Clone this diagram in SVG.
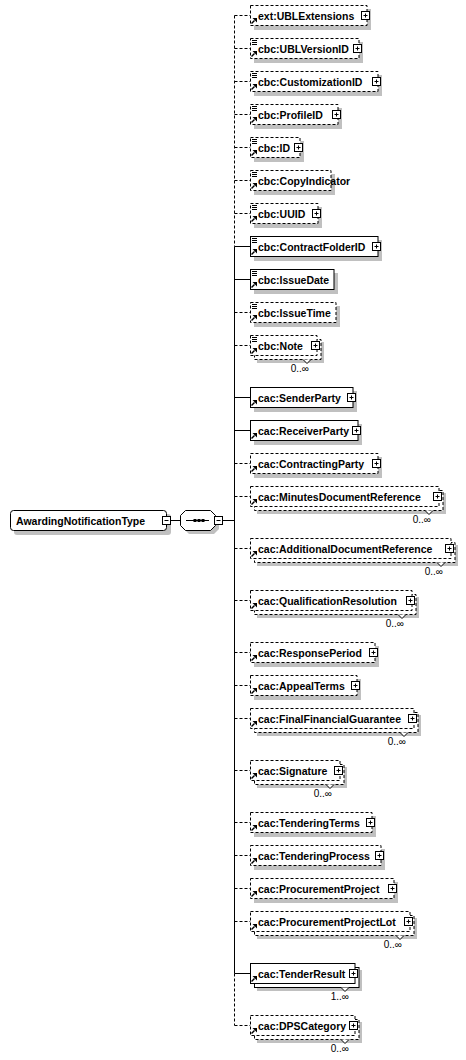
<svg xmlns="http://www.w3.org/2000/svg" xmlns:xlink="http://www.w3.org/1999/xlink" width="466" height="1060" viewBox="0 0 466 1060">
<style>
.box{fill:#fff;stroke:#000;stroke-width:1}
.opt{stroke-dasharray:3,2}
.sh{fill:#c0c0c0}
.ln{fill:none;stroke:#000;stroke-width:1}
.dash{stroke-dasharray:3,2}
.t{font-family:"Liberation Sans",Arial,sans-serif;font-size:10.5px;font-weight:bold;fill:#000}
.occ{font-family:"Liberation Sans",Arial,sans-serif;font-size:10px;fill:#000}
.btn{fill:#fff;stroke:#000;stroke-width:1}
</style>
<defs>
<g id="refIcon">
<path d="M251.5,8.5 L254.5,5.5" stroke="#000" stroke-width="1.4" fill="none"/>
<polygon points="257,3 257,7.5 252.5,3" fill="#000"/>
</g>
<g id="simpleIcon" stroke="#000" stroke-width="1">
<path d="M252,-7.5 H257 M252,-5.5 H257 M252,-3.5 H257"/>
</g>
</defs>

<g id="connectors">
<path class="ln" d="M170.5,520.5 H180.5 M222.5,520.5 H234.5"/>
<path class="ln dash" d="M234.5,15.5 V246.5"/>
<path class="ln" d="M234.5,246.5 V973.5"/>
<path class="ln dash" d="M234.5,973.5 V1025.5"/>
<path class="ln dash" d="M234.5,15.5 H250.5 M234.5,48.5 H250.5 M234.5,81.5 H250.5 M234.5,114.5 H250.5 M234.5,147.5 H250.5 M234.5,180.5 H250.5 M234.5,213.5 H250.5 M234.5,312.5 H250.5 M234.5,345.5 H250.5 M234.5,463.5 H250.5 M234.5,496.5 H250.5 M234.5,548.5 H250.5 M234.5,600.5 H250.5 M234.5,652.5 H250.5 M234.5,685.5 H250.5 M234.5,718.5 H250.5 M234.5,770.5 H250.5 M234.5,822.5 H250.5 M234.5,855.5 H250.5 M234.5,888.5 H250.5 M234.5,921.5 H250.5 M234.5,1025.5 H250.5"/>
<path class="ln" d="M234.5,246.5 H250.5 M234.5,279.5 H250.5 M234.5,397.5 H250.5 M234.5,430.5 H250.5 M234.5,973.5 H250.5"/>
</g>

<g id="AwardingNotificationType">
<rect class="sh" x="14" y="514" width="157" height="21" rx="3"/>
<rect class="box" x="10.5" y="510.5" width="156" height="20" rx="3"/>
<text class="t" x="16" y="525">AwardingNotificationType</text>
<rect class="btn" x="162.5" y="516.5" width="8" height="8"/>
<path class="ln" d="M164.5,520.5 H168.5"/>
</g>

<g id="sequence">
<polygon class="sh" points="189,514 214,514 219,519 219,529 214,534 189,534 184,529 184,519"/>
<polygon class="box" points="185.5,510.5 210.5,510.5 215.5,515.5 215.5,525.5 210.5,530.5 185.5,530.5 180.5,525.5 180.5,515.5"/>
<path class="ln" d="M186,520.5 H209"/>
<rect x="193.5" y="519" width="3" height="3" fill="#000"/>
<rect x="197.5" y="519" width="3" height="3" fill="#000"/>
<rect x="201.5" y="519" width="3" height="3" fill="#000"/>
<rect class="btn" x="214.5" y="516.5" width="8" height="8"/>
<path class="ln" d="M216.5,520.5 H220.5"/>
</g>

<g id="ext_UBLExtensions" transform="translate(0,15)">
<rect class="sh" x="254" y="-6" width="117" height="21"/>
<rect class="box opt" x="250.5" y="-9.5" width="116.5" height="20"/>
<use xlink:href="#refIcon"/>
<text class="t" x="258" y="4.5">ext:UBLExtensions</text>
<rect class="btn" x="361.5" y="-3.5" width="8" height="8"/>
<path class="ln" d="M363.5,0.5 H367.5 M365.5,-1.5 V2.5"/>
</g>

<g id="cbc_UBLVersionID" transform="translate(0,48)">
<rect class="sh" x="254" y="-6" width="109" height="21"/>
<rect class="box opt" x="250.5" y="-9.5" width="108.5" height="20"/>
<use xlink:href="#simpleIcon"/>
<use xlink:href="#refIcon"/>
<text class="t" x="258" y="4.5">cbc:UBLVersionID</text>
<rect class="btn" x="353.5" y="-3.5" width="8" height="8"/>
<path class="ln" d="M355.5,0.5 H359.5 M357.5,-1.5 V2.5"/>
</g>

<g id="cbc_CustomizationID" transform="translate(0,81)">
<rect class="sh" x="254" y="-6" width="128" height="21"/>
<rect class="box opt" x="250.5" y="-9.5" width="127.5" height="20"/>
<use xlink:href="#simpleIcon"/>
<use xlink:href="#refIcon"/>
<text class="t" x="258" y="4.5">cbc:CustomizationID</text>
<rect class="btn" x="372.5" y="-3.5" width="8" height="8"/>
<path class="ln" d="M374.5,0.5 H378.5 M376.5,-1.5 V2.5"/>
</g>

<g id="cbc_ProfileID" transform="translate(0,114)">
<rect class="sh" x="254" y="-6" width="88" height="21"/>
<rect class="box opt" x="250.5" y="-9.5" width="87.5" height="20"/>
<use xlink:href="#simpleIcon"/>
<use xlink:href="#refIcon"/>
<text class="t" x="258" y="4.5">cbc:ProfileID</text>
<rect class="btn" x="332.5" y="-3.5" width="8" height="8"/>
<path class="ln" d="M334.5,0.5 H338.5 M336.5,-1.5 V2.5"/>
</g>

<g id="cbc_ID" transform="translate(0,147)">
<rect class="sh" x="254" y="-6" width="50" height="21"/>
<rect class="box opt" x="250.5" y="-9.5" width="49.5" height="20"/>
<use xlink:href="#simpleIcon"/>
<use xlink:href="#refIcon"/>
<text class="t" x="258" y="4.5">cbc:ID</text>
<rect class="btn" x="294.5" y="-3.5" width="8" height="8"/>
<path class="ln" d="M296.5,0.5 H300.5 M298.5,-1.5 V2.5"/>
</g>

<g id="cbc_CopyIndicator" transform="translate(0,180)">
<rect class="sh" x="254" y="-6" width="81" height="21"/>
<rect class="box opt" x="250.5" y="-9.5" width="80.5" height="20"/>
<use xlink:href="#simpleIcon"/>
<use xlink:href="#refIcon"/>
<text class="t" x="258" y="4.5">cbc:CopyIndicator</text>
</g>

<g id="cbc_UUID" transform="translate(0,213)">
<rect class="sh" x="254" y="-6" width="68" height="21"/>
<rect class="box opt" x="250.5" y="-9.5" width="67.5" height="20"/>
<use xlink:href="#simpleIcon"/>
<use xlink:href="#refIcon"/>
<text class="t" x="258" y="4.5">cbc:UUID</text>
<rect class="btn" x="312.5" y="-3.5" width="8" height="8"/>
<path class="ln" d="M314.5,0.5 H318.5 M316.5,-1.5 V2.5"/>
</g>

<g id="cbc_ContractFolderID" transform="translate(0,246)">
<rect class="sh" x="254" y="-6" width="128" height="21"/>
<rect class="box" x="250.5" y="-9.5" width="127.5" height="20"/>
<use xlink:href="#simpleIcon"/>
<use xlink:href="#refIcon"/>
<text class="t" x="258" y="4.5">cbc:ContractFolderID</text>
<rect class="btn" x="372.5" y="-3.5" width="8" height="8"/>
<path class="ln" d="M374.5,0.5 H378.5 M376.5,-1.5 V2.5"/>
</g>

<g id="cbc_IssueDate" transform="translate(0,279)">
<rect class="sh" x="254" y="-6" width="84" height="21"/>
<rect class="box" x="250.5" y="-9.5" width="83.5" height="20"/>
<use xlink:href="#simpleIcon"/>
<use xlink:href="#refIcon"/>
<text class="t" x="258" y="4.5">cbc:IssueDate</text>
</g>

<g id="cbc_IssueTime" transform="translate(0,312)">
<rect class="sh" x="254" y="-6" width="86" height="21"/>
<rect class="box opt" x="250.5" y="-9.5" width="85.5" height="20"/>
<use xlink:href="#simpleIcon"/>
<use xlink:href="#refIcon"/>
<text class="t" x="258" y="4.5">cbc:IssueTime</text>
</g>

<g id="cbc_Note" transform="translate(0,345)">
<rect class="sh" x="257" y="-3" width="67" height="21"/>
<rect class="box opt" x="254.5" y="-5.5" width="66.5" height="20"/>
<rect class="box opt" x="250.5" y="-9.5" width="66.5" height="20"/>
<use xlink:href="#simpleIcon"/>
<use xlink:href="#refIcon"/>
<text class="t" x="258" y="4.5">cbc:Note</text>
<rect class="btn" x="311.5" y="-3.5" width="8" height="8"/>
<path class="ln" d="M313.5,0.5 H317.5 M315.5,-1.5 V2.5"/>
<polyline class="btn" points="303,14.5 307,18.5 311,14.5"/>
<text class="occ" x="309" y="26.5" text-anchor="end">0..∞</text>
</g>

<g id="cac_SenderParty" transform="translate(0,397)">
<rect class="sh" x="254" y="-6" width="103" height="21"/>
<rect class="box" x="250.5" y="-9.5" width="102.5" height="20"/>
<use xlink:href="#refIcon"/>
<text class="t" x="258" y="4.5">cac:SenderParty</text>
<rect class="btn" x="347.5" y="-3.5" width="8" height="8"/>
<path class="ln" d="M349.5,0.5 H353.5 M351.5,-1.5 V2.5"/>
</g>

<g id="cac_ReceiverParty" transform="translate(0,430)">
<rect class="sh" x="254" y="-6" width="108" height="21"/>
<rect class="box" x="250.5" y="-9.5" width="107.5" height="20"/>
<use xlink:href="#refIcon"/>
<text class="t" x="258" y="4.5">cac:ReceiverParty</text>
<rect class="btn" x="352.5" y="-3.5" width="8" height="8"/>
<path class="ln" d="M354.5,0.5 H358.5 M356.5,-1.5 V2.5"/>
</g>

<g id="cac_ContractingParty" transform="translate(0,463)">
<rect class="sh" x="254" y="-6" width="128" height="21"/>
<rect class="box opt" x="250.5" y="-9.5" width="127.5" height="20"/>
<use xlink:href="#refIcon"/>
<text class="t" x="258" y="4.5">cac:ContractingParty</text>
<rect class="btn" x="372.5" y="-3.5" width="8" height="8"/>
<path class="ln" d="M374.5,0.5 H378.5 M376.5,-1.5 V2.5"/>
</g>

<g id="cac_MinutesDocumentReference" transform="translate(0,496)">
<rect class="sh" x="257" y="-3" width="189" height="21"/>
<rect class="box opt" x="254.5" y="-5.5" width="188.5" height="20"/>
<rect class="box opt" x="250.5" y="-9.5" width="188.5" height="20"/>
<use xlink:href="#refIcon"/>
<text class="t" x="258" y="4.5">cac:MinutesDocumentReference</text>
<rect class="btn" x="433.5" y="-3.5" width="8" height="8"/>
<path class="ln" d="M435.5,0.5 H439.5 M437.5,-1.5 V2.5"/>
<polyline class="btn" points="425,14.5 429,18.5 433,14.5"/>
<text class="occ" x="431" y="26.5" text-anchor="end">0..∞</text>
</g>

<g id="cac_AdditionalDocumentReference" transform="translate(0,548)">
<rect class="sh" x="257" y="-3" width="201" height="21"/>
<rect class="box opt" x="254.5" y="-5.5" width="200.5" height="20"/>
<rect class="box opt" x="250.5" y="-9.5" width="200.5" height="20"/>
<use xlink:href="#refIcon"/>
<text class="t" x="258" y="4.5">cac:AdditionalDocumentReference</text>
<rect class="btn" x="445.5" y="-3.5" width="8" height="8"/>
<path class="ln" d="M447.5,0.5 H451.5 M449.5,-1.5 V2.5"/>
<polyline class="btn" points="437,14.5 441,18.5 445,14.5"/>
<text class="occ" x="443" y="26.5" text-anchor="end">0..∞</text>
</g>

<g id="cac_QualificationResolution" transform="translate(0,600)">
<rect class="sh" x="257" y="-3" width="162" height="21"/>
<rect class="box opt" x="254.5" y="-5.5" width="161.5" height="20"/>
<rect class="box opt" x="250.5" y="-9.5" width="161.5" height="20"/>
<use xlink:href="#refIcon"/>
<text class="t" x="258" y="4.5">cac:QualificationResolution</text>
<rect class="btn" x="406.5" y="-3.5" width="8" height="8"/>
<path class="ln" d="M408.5,0.5 H412.5 M410.5,-1.5 V2.5"/>
<polyline class="btn" points="398,14.5 402,18.5 406,14.5"/>
<text class="occ" x="404" y="26.5" text-anchor="end">0..∞</text>
</g>

<g id="cac_ResponsePeriod" transform="translate(0,652)">
<rect class="sh" x="254" y="-6" width="125" height="21"/>
<rect class="box opt" x="250.5" y="-9.5" width="124.5" height="20"/>
<use xlink:href="#refIcon"/>
<text class="t" x="258" y="4.5">cac:ResponsePeriod</text>
<rect class="btn" x="369.5" y="-3.5" width="8" height="8"/>
<path class="ln" d="M371.5,0.5 H375.5 M373.5,-1.5 V2.5"/>
</g>

<g id="cac_AppealTerms" transform="translate(0,685)">
<rect class="sh" x="254" y="-6" width="107" height="21"/>
<rect class="box opt" x="250.5" y="-9.5" width="106.5" height="20"/>
<use xlink:href="#refIcon"/>
<text class="t" x="258" y="4.5">cac:AppealTerms</text>
<rect class="btn" x="351.5" y="-3.5" width="8" height="8"/>
<path class="ln" d="M353.5,0.5 H357.5 M355.5,-1.5 V2.5"/>
</g>

<g id="cac_FinalFinancialGuarantee" transform="translate(0,718)">
<rect class="sh" x="257" y="-3" width="164" height="21"/>
<rect class="box opt" x="254.5" y="-5.5" width="163.5" height="20"/>
<rect class="box opt" x="250.5" y="-9.5" width="163.5" height="20"/>
<use xlink:href="#refIcon"/>
<text class="t" x="258" y="4.5">cac:FinalFinancialGuarantee</text>
<rect class="btn" x="408.5" y="-3.5" width="8" height="8"/>
<path class="ln" d="M410.5,0.5 H414.5 M412.5,-1.5 V2.5"/>
<polyline class="btn" points="400,14.5 404,18.5 408,14.5"/>
<text class="occ" x="406" y="26.5" text-anchor="end">0..∞</text>
</g>

<g id="cac_Signature" transform="translate(0,770)">
<rect class="sh" x="257" y="-3" width="90" height="21"/>
<rect class="box opt" x="254.5" y="-5.5" width="89.5" height="20"/>
<rect class="box opt" x="250.5" y="-9.5" width="89.5" height="20"/>
<use xlink:href="#refIcon"/>
<text class="t" x="258" y="4.5">cac:Signature</text>
<rect class="btn" x="334.5" y="-3.5" width="8" height="8"/>
<path class="ln" d="M336.5,0.5 H340.5 M338.5,-1.5 V2.5"/>
<polyline class="btn" points="326,14.5 330,18.5 334,14.5"/>
<text class="occ" x="332" y="26.5" text-anchor="end">0..∞</text>
</g>

<g id="cac_TenderingTerms" transform="translate(0,822)">
<rect class="sh" x="254" y="-6" width="122" height="21"/>
<rect class="box opt" x="250.5" y="-9.5" width="121.5" height="20"/>
<use xlink:href="#refIcon"/>
<text class="t" x="258" y="4.5">cac:TenderingTerms</text>
<rect class="btn" x="366.5" y="-3.5" width="8" height="8"/>
<path class="ln" d="M368.5,0.5 H372.5 M370.5,-1.5 V2.5"/>
</g>

<g id="cac_TenderingProcess" transform="translate(0,855)">
<rect class="sh" x="254" y="-6" width="131" height="21"/>
<rect class="box opt" x="250.5" y="-9.5" width="130.5" height="20"/>
<use xlink:href="#refIcon"/>
<text class="t" x="258" y="4.5">cac:TenderingProcess</text>
<rect class="btn" x="375.5" y="-3.5" width="8" height="8"/>
<path class="ln" d="M377.5,0.5 H381.5 M379.5,-1.5 V2.5"/>
</g>

<g id="cac_ProcurementProject" transform="translate(0,888)">
<rect class="sh" x="254" y="-6" width="144" height="21"/>
<rect class="box opt" x="250.5" y="-9.5" width="143.5" height="20"/>
<use xlink:href="#refIcon"/>
<text class="t" x="258" y="4.5">cac:ProcurementProject</text>
<rect class="btn" x="388.5" y="-3.5" width="8" height="8"/>
<path class="ln" d="M390.5,0.5 H394.5 M392.5,-1.5 V2.5"/>
</g>

<g id="cac_ProcurementProjectLot" transform="translate(0,921)">
<rect class="sh" x="257" y="-3" width="160" height="21"/>
<rect class="box opt" x="254.5" y="-5.5" width="159.5" height="20"/>
<rect class="box opt" x="250.5" y="-9.5" width="159.5" height="20"/>
<use xlink:href="#refIcon"/>
<text class="t" x="258" y="4.5">cac:ProcurementProjectLot</text>
<rect class="btn" x="404.5" y="-3.5" width="8" height="8"/>
<path class="ln" d="M406.5,0.5 H410.5 M408.5,-1.5 V2.5"/>
<polyline class="btn" points="396,14.5 400,18.5 404,14.5"/>
<text class="occ" x="402" y="26.5" text-anchor="end">0..∞</text>
</g>

<g id="cac_TenderResult" transform="translate(0,973)">
<rect class="sh" x="257" y="-3" width="105" height="21"/>
<rect class="box" x="254.5" y="-5.5" width="104.5" height="20"/>
<rect class="box" x="250.5" y="-9.5" width="104.5" height="20"/>
<use xlink:href="#refIcon"/>
<text class="t" x="258" y="4.5">cac:TenderResult</text>
<rect class="btn" x="349.5" y="-3.5" width="8" height="8"/>
<path class="ln" d="M351.5,0.5 H355.5 M353.5,-1.5 V2.5"/>
<polyline class="btn" points="341,14.5 345,18.5 349,14.5"/>
<text class="occ" x="349" y="26.5" text-anchor="end">1..∞</text>
</g>

<g id="cac_DPSCategory" transform="translate(0,1025)">
<rect class="sh" x="257" y="-3" width="105" height="21"/>
<rect class="box opt" x="254.5" y="-5.5" width="104.5" height="20"/>
<rect class="box opt" x="250.5" y="-9.5" width="104.5" height="20"/>
<use xlink:href="#refIcon"/>
<text class="t" x="258" y="4.5">cac:DPSCategory</text>
<rect class="btn" x="349.5" y="-3.5" width="8" height="8"/>
<path class="ln" d="M351.5,0.5 H355.5 M353.5,-1.5 V2.5"/>
<polyline class="btn" points="341,14.5 345,18.5 349,14.5"/>
<text class="occ" x="349" y="26.5" text-anchor="end">0..∞</text>
</g>
</svg>
